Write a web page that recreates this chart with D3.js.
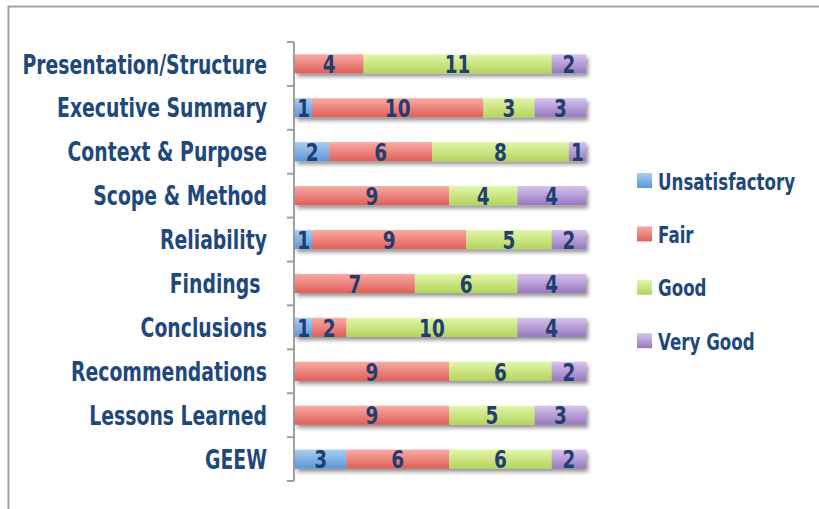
<!DOCTYPE html>
<html>
<head>
<meta charset="utf-8">
<script src="https://cdn.jsdelivr.net/npm/d3@7"></script>
<style>
  body { margin: 0; background: #fff; }
  text { font-family: "DejaVu Sans", sans-serif; font-weight: bold; }
</style>
</head>
<body>
<div id="chart"></div>
<script>
// Data
var categories = ["Presentation/Structure", "Executive Summary", "Context & Purpose", "Scope & Method",
    "Reliability", "Findings ", "Conclusions", "Recommendations", "Lessons Learned", "GEEW"];
var seriesNames = ["Unsatisfactory", "Fair", "Good", "Very Good"];
var unsatisfactory = [0, 1, 2, 0, 1, 0, 1, 0, 0, 3];
var fair = [4, 10, 6, 9, 9, 7, 2, 9, 9, 6];
var good = [11, 3, 8, 4, 5, 6, 10, 6, 5, 6];
var veryGood = [2, 3, 1, 4, 2, 4, 4, 2, 3, 2];
var xTicks = [0, 17];

var svgWidth = 819;
var svgHeight = 509;

var margin = { top: 42, left: 295, bottom: 28, right: 232 };
var width = svgWidth - margin.left - margin.right;
var height = svgHeight - margin.top - margin.bottom;

// colour stops: top, bottom
var colors = [
    ["#a9cdf2", "#5b97d6"],
    ["#f9aaa5", "#df5f57"],
    ["#e3f6aa", "#b4d45c"],
    ["#d5c4ee", "#9778bd"]
];

var svg = d3.select("#chart")
    .append("svg")
    .attr("width", svgWidth)
    .attr("height", svgHeight);

var defs = svg.append("defs");
colors.forEach(function (c, i) {
    var g = defs.append("linearGradient")
        .attr("id", "grad" + i)
        .attr("x1", 0).attr("y1", 0).attr("x2", 0).attr("y2", 1);
    g.append("stop").attr("offset", "0%").attr("stop-color", c[0]);
    g.append("stop").attr("offset", "100%").attr("stop-color", c[1]);
});
var shadow = defs.append("filter").attr("id", "shadow")
    .attr("x", "-5%").attr("y", "-30%").attr("width", "110%").attr("height", "190%");
shadow.append("feGaussianBlur").attr("in", "SourceAlpha").attr("stdDeviation", 2.2);
shadow.append("feOffset").attr("dx", 2).attr("dy", 3).attr("result", "b");
shadow.append("feComponentTransfer").append("feFuncA").attr("type", "linear").attr("slope", 0.45);
var merge = shadow.append("feMerge");
merge.append("feMergeNode");
merge.append("feMergeNode").attr("in", "SourceGraphic");

// outer border
svg.append("path")
    .attr("d", "M8.5," + svgHeight + "V6.5H" + svgWidth)
    .attr("fill", "none")
    .attr("stroke", "#a3a3a3")
    .attr("stroke-width", 2);

var chartGroup = svg.append("g")
    .attr("transform", `translate(${margin.left}, ${margin.top})`);

var rows = categories.map(function (c, i) {
    return { cat: c, values: [unsatisfactory[i], fair[i], good[i], veryGood[i]] };
});

var xLinearScale = d3.scaleLinear()
    .domain(d3.extent(xTicks))
    .range([0, width - 1]);

var yBandScale = d3.scaleBand()
    .domain(categories)
    .range([0, height])
    .paddingInner(0.565)
    .paddingOuter(0.28);

var yOuter = d3.scaleBand()
    .domain(categories)
    .range([0, height]);

// axis with ticks at band edges
chartGroup.append("line")
    .attr("x1", -1).attr("x2", -1)
    .attr("y1", 0).attr("y2", height)
    .attr("stroke", "#a0a0a0").attr("stroke-width", 2);
var edges = categories.map(function (c) { return yOuter(c); }).concat([height]);
chartGroup.selectAll(".tick")
    .data(edges)
    .enter()
    .append("line")
    .attr("x1", -8).attr("x2", -1)
    .attr("y1", d => d).attr("y2", d => d)
    .attr("stroke", "#a0a0a0").attr("stroke-width", 2);

// stacked bars
var stack = d3.stack()
    .keys([0, 1, 2, 3])
    .value((d, k) => d.values[k]);
var series = stack(rows);

var barGroups = chartGroup.selectAll(".bar")
    .data(rows)
    .enter()
    .append("g")
    .attr("filter", "url(#shadow)");

barGroups.each(function (row, ri) {
    var g = d3.select(this);
    series.forEach(function (s, si) {
        var d = s[ri];
        if (d[1] - d[0] <= 0) return;
        g.append("rect")
            .attr("x", xLinearScale(d[0]))
            .attr("y", yBandScale(row.cat))
            .attr("width", xLinearScale(d[1]) - xLinearScale(d[0]))
            .attr("height", yBandScale.bandwidth())
            .attr("fill", "url(#grad" + si + ")");
    });
});

// value labels (squeezed to look like a condensed face)
series.forEach(function (s, si) {
    chartGroup.selectAll(".val" + si)
        .data(s.filter(d => d[1] - d[0] > 0))
        .enter()
        .append("g")
        .attr("transform", d => `translate(${(xLinearScale(d[0]) + xLinearScale(d[1])) / 2}, ${yBandScale(d.data.cat) + yBandScale.bandwidth() / 2}) scale(0.74, 1)`)
        .append("text")
        .attr("dy", "0.37em")
        .attr("text-anchor", "middle")
        .attr("font-size", "25px")
        .attr("fill", "#1f3f70")
        .text(d => d[1] - d[0]);
});

// category labels
chartGroup.selectAll(".cat")
    .data(categories)
    .enter()
    .append("g")
    .attr("transform", d => `translate(-28, ${yOuter(d) + yOuter.bandwidth() / 2}) scale(0.725, 1)`)
    .append("text")
    .attr("dy", "0.37em")
    .attr("text-anchor", "end")
    .attr("font-size", "26px")
    .attr("fill", "#1f487c")
    .style("white-space", "pre")
    .text(d => d);

// legend
var legend = svg.append("g")
    .attr("transform", "translate(637, 181)");
var items = legend.selectAll(".item")
    .data(seriesNames)
    .enter()
    .append("g")
    .attr("transform", (d, i) => `translate(0, ${i * 53.4})`);
items.append("rect")
    .attr("x", 0).attr("y", -8)
    .attr("width", 15).attr("height", 15)
    .attr("fill", (d, i) => "url(#grad" + i + ")");
items.append("g")
    .attr("transform", "translate(21, 0) scale(0.725, 1)")
    .append("text")
    .attr("dy", "0.37em")
    .attr("font-size", "23px")
    .attr("fill", "#1f487c")
    .text(d => d);
</script>
</body>
</html>
